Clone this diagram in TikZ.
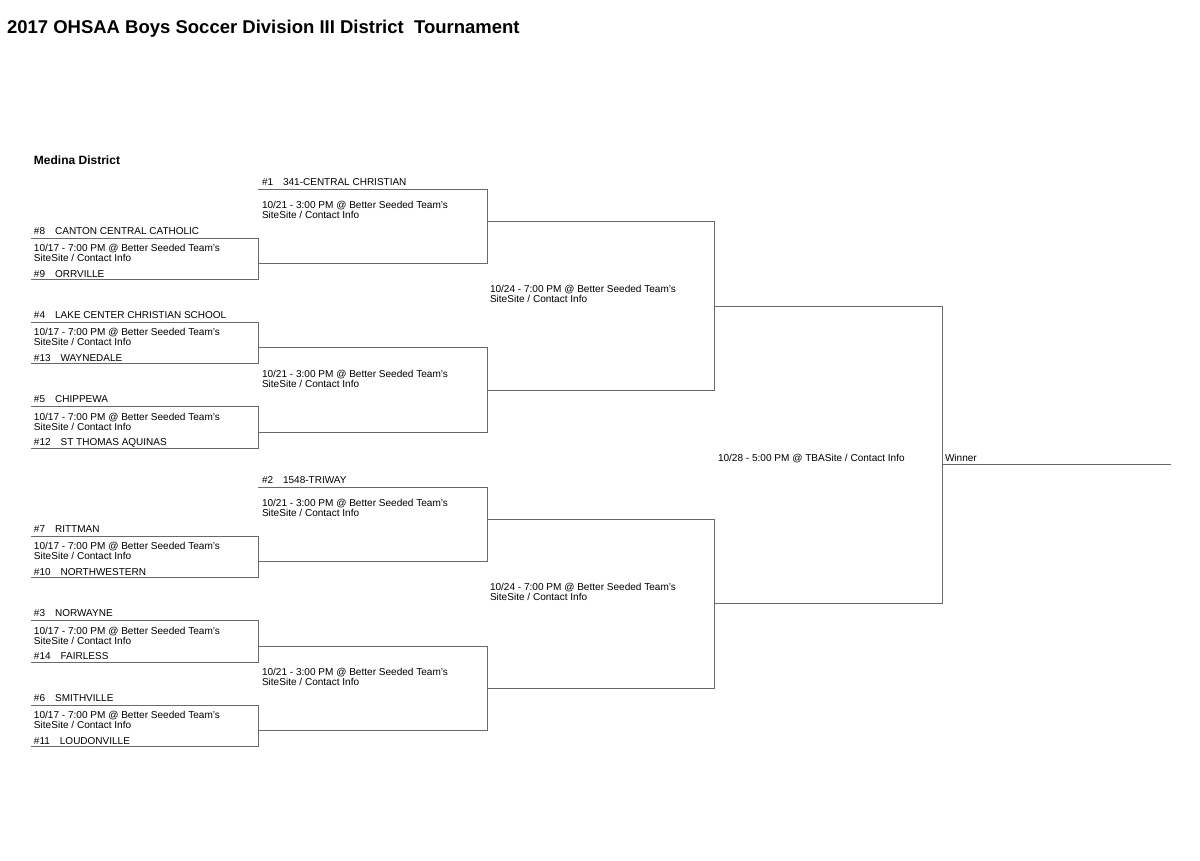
\documentclass[tikz,border=0pt]{standalone}
\usepackage{fontspec}
\setmainfont{Liberation Sans}
\usepackage{tikz}

\begin{document}
\begin{tikzpicture}[x=1pt,y=-1pt,
  team/.style={inner sep=0pt,outer sep=0pt,anchor=base west,font=\fontsize{10}{12}\selectfont},
  info/.style={inner sep=0pt,outer sep=0pt,anchor=base west,font=\fontsize{10.05}{11}\selectfont},
  bracket/.style={draw={rgb,255:red,105;green,105;blue,105},line width=1pt,line cap=rect}]
\path[use as bounding box] (0,0) rectangle (1200,860);
\path[fill=white,draw=none] (0,0) rectangle (1200,860);
\node[inner sep=0pt,outer sep=0pt,anchor=base west,font=\bfseries\fontsize{18.5}{22}\selectfont] (title) at (7,33) {2017 OHSAA Boys Soccer Division III District\ \ Tournament};
\node[inner sep=0pt,outer sep=0pt,anchor=base west,font=\bfseries\fontsize{12}{14.4}\selectfont] (district) at (34,164) {Medina District};
% first round, upper half
\draw[bracket] (31,238) -- (258,238) -- (258,279.5) -- (31,279.5);
\node[team] (s8) at (34,234) {\#8\quad CANTON CENTRAL CATHOLIC};
\node[info] (g1a) at (34,251.5) {10/17 - 7:00 PM @ Better Seeded Team's};
\node[info] (g1b) at (34,261.5) {SiteSite / Contact Info};
\node[team] (s9) at (34,277) {\#9\quad ORRVILLE};
\draw[bracket] (31,322) -- (258,322) -- (258,363.5) -- (31,363.5);
\node[team] (s4) at (34,318) {\#4\quad LAKE CENTER CHRISTIAN SCHOOL};
\node[info] (g2a) at (34,335.5) {10/17 - 7:00 PM @ Better Seeded Team's};
\node[info] (g2b) at (34,345.5) {SiteSite / Contact Info};
\node[team] (s13) at (34,361) {\#13\quad WAYNEDALE};
\draw[bracket] (31,406.5) -- (258,406.5) -- (258,448) -- (31,448);
\node[team] (s5) at (34,402.5) {\#5\quad CHIPPEWA};
\node[info] (g3a) at (34,420) {10/17 - 7:00 PM @ Better Seeded Team's};
\node[info] (g3b) at (34,430) {SiteSite / Contact Info};
\node[team] (s12) at (34,445.5) {\#12\quad ST THOMAS AQUINAS};
% first round, lower half
\draw[bracket] (31,536) -- (258,536) -- (258,577.5) -- (31,577.5);
\node[team] (s7) at (34,532) {\#7\quad RITTMAN};
\node[info] (g4a) at (34,549.5) {10/17 - 7:00 PM @ Better Seeded Team's};
\node[info] (g4b) at (34,559.5) {SiteSite / Contact Info};
\node[team] (s10) at (34,575) {\#10\quad NORTHWESTERN};
\draw[bracket] (31,620.5) -- (258,620.5) -- (258,662) -- (31,662);
\node[team] (s3) at (34,616.5) {\#3\quad NORWAYNE};
\node[info] (g5a) at (34,634) {10/17 - 7:00 PM @ Better Seeded Team's};
\node[info] (g5b) at (34,644) {SiteSite / Contact Info};
\node[team] (s14) at (34,659.5) {\#14\quad FAIRLESS};
\draw[bracket] (31,705) -- (258,705) -- (258,746.5) -- (31,746.5);
\node[team] (s6) at (34,701) {\#6\quad SMITHVILLE};
\node[info] (g6a) at (34,718.5) {10/17 - 7:00 PM @ Better Seeded Team's};
\node[info] (g6b) at (34,728.5) {SiteSite / Contact Info};
\node[team] (s11) at (34,744) {\#11\quad LOUDONVILLE};
% second round
\draw[bracket] (258,189) -- (487,189) -- (487,263.5) -- (258,263.5);
\node[team] (s1) at (262,185.5) {\#1\quad 341-CENTRAL CHRISTIAN};
\node[info] (q1a) at (262,208) {10/21 - 3:00 PM @ Better Seeded Team's};
\node[info] (q1b) at (262,218) {SiteSite / Contact Info};
\draw[bracket] (258,347.5) -- (487,347.5) -- (487,432) -- (258,432);
\node[info] (q2a) at (262,377) {10/21 - 3:00 PM @ Better Seeded Team's};
\node[info] (q2b) at (262,387) {SiteSite / Contact Info};
\draw[bracket] (258,487) -- (487,487) -- (487,561.5) -- (258,561.5);
\node[team] (s2) at (262,483.5) {\#2\quad 1548-TRIWAY};
\node[info] (q3a) at (262,506.5) {10/21 - 3:00 PM @ Better Seeded Team's};
\node[info] (q3b) at (262,516.5) {SiteSite / Contact Info};
\draw[bracket] (258,646) -- (487,646) -- (487,730.5) -- (258,730.5);
\node[info] (q4a) at (262,675.5) {10/21 - 3:00 PM @ Better Seeded Team's};
\node[info] (q4b) at (262,685.5) {SiteSite / Contact Info};
% semifinals
\draw[bracket] (487,221) -- (714,221) -- (714,390) -- (487,390);
\node[info] (sf1a) at (490,292.5) {10/24 - 7:00 PM @ Better Seeded Team's};
\node[info] (sf1b) at (490,302.5) {SiteSite / Contact Info};
\draw[bracket] (487,519) -- (714,519) -- (714,688) -- (487,688);
\node[info] (sf2a) at (490,590) {10/24 - 7:00 PM @ Better Seeded Team's};
\node[info] (sf2b) at (490,600) {SiteSite / Contact Info};
% final and winner
\draw[bracket] (714,306) -- (942,306) -- (942,603) -- (714,603);
\node[info] (fin) at (718,461.5) {10/28 - 5:00 PM @ TBASite / Contact Info};
\draw[bracket] (942,464) -- (1170,464);
\node[info] (winner) at (945,461.5) {Winner};
\end{tikzpicture}
\end{document}
